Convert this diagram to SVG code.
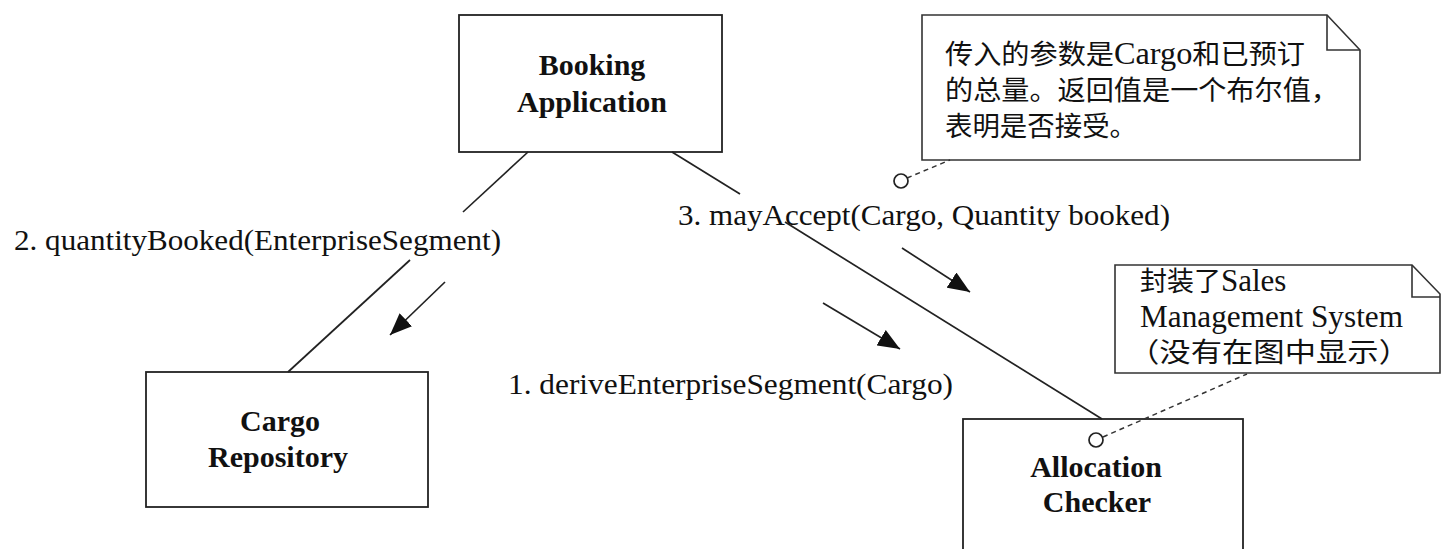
<svg xmlns="http://www.w3.org/2000/svg" width="1441" height="549" viewBox="0 0 1441 549">
  <style>
    .box { fill: #fff; stroke: #222; stroke-width: 1.8; }
    .note { fill: #fff; stroke: #333; stroke-width: 1.6; }
    .fold { fill: none; stroke: #333; stroke-width: 1.6; }
    .link { fill: none; stroke: #222; stroke-width: 1.7; }
    .msg { fill: none; stroke: #222; stroke-width: 1.7; }
    .dash { fill: none; stroke: #333; stroke-width: 1.5; stroke-dasharray: 5 4; }
    .anchor { fill: #fff; stroke: #222; stroke-width: 1.7; }
    .name { font-family: "Liberation Serif", "Times New Roman", serif; font-weight: bold; font-size: 30px; fill: #111; text-anchor: middle; }
    .label { font-family: "Liberation Serif", "Times New Roman", serif; font-size: 30px; fill: #111; }
    .cjk { font-family: "Liberation Serif", "Noto Sans CJK SC", serif; font-size: 27px; fill: #111; }
    .lat { font-size: 31px; }
  </style>
  <defs>
    <marker id="head" viewBox="0 0 22 18" refX="22" refY="9" markerWidth="22" markerHeight="18" markerUnits="userSpaceOnUse" orient="auto">
      <path d="M0,0 L22,9 L0,18 z" fill="#111"/>
    </marker>
  </defs>

  <g id="booking-application">
    <rect class="box" x="459" y="15" width="263" height="137"/>
    <text class="name" x="592" y="75">Booking</text>
    <text class="name" x="592" y="112">Application</text>
  </g>

  <g id="cargo-repository">
    <rect class="box" x="146" y="372" width="282" height="135"/>
    <text class="name" x="280" y="431">Cargo</text>
    <text class="name" x="278" y="467">Repository</text>
  </g>

  <g id="allocation-checker">
    <rect class="box" x="963" y="419" width="280" height="150"/>
    <text class="name" x="1096" y="477">Allocation</text>
    <text class="name" x="1097" y="512">Checker</text>
  </g>

  <g id="note-mayaccept">
    <path class="note" d="M922,15 L1327,15 L1360,50 L1360,160 L922,160 Z"/>
    <polyline class="fold" points="1327,15 1327,50 1360,50"/>
    <text class="cjk" x="945" y="64" textLength="360" lengthAdjust="spacingAndGlyphs">传入的参数是<tspan class="lat">Cargo</tspan>和已预订</text>
    <text class="cjk" x="945" y="100" textLength="394" lengthAdjust="spacingAndGlyphs">的总量。返回值是一个布尔值，</text>
    <text class="cjk" x="945" y="136" textLength="192" lengthAdjust="spacingAndGlyphs">表明是否接受。</text>
  </g>

  <g id="note-allocation">
    <path class="note" d="M1115,265 L1412,265 L1440,294 L1440,373 L1115,373 Z"/>
    <polyline class="fold" points="1412,265 1412,297 1440,297"/>
    <text class="cjk" x="1140" y="291"><tspan>封装了</tspan><tspan class="lat">Sales</tspan></text>
    <text class="cjk lat" x="1140" y="327" textLength="263" lengthAdjust="spacingAndGlyphs">Management System</text>
    <text class="cjk" x="1128" y="362" textLength="282" lengthAdjust="spacingAndGlyphs">（没有在图中显示）</text>
  </g>

  <g id="connectors">
    <line class="link" x1="528" y1="152" x2="463" y2="212"/>
    <line class="link" x1="410" y1="260" x2="288" y2="372"/>
    <line class="link" x1="672" y1="152" x2="740" y2="194"/>
    <line class="link" x1="785" y1="222" x2="1102" y2="419"/>
    <line class="msg" x1="445" y1="282" x2="390" y2="335" marker-end="url(#head)"/>
    <line class="msg" x1="902" y1="248" x2="970" y2="292" marker-end="url(#head)"/>
    <line class="msg" x1="823" y1="303" x2="900" y2="349" marker-end="url(#head)"/>
    <line class="dash" x1="907" y1="178" x2="950" y2="160"/>
    <circle class="anchor" cx="901" cy="181" r="7"/>
    <line class="dash" x1="1103" y1="437" x2="1247" y2="374"/>
    <circle class="anchor" cx="1096" cy="440" r="7"/>
    <text class="label" x="14" y="250" textLength="487" lengthAdjust="spacingAndGlyphs">2. quantityBooked(EnterpriseSegment)</text>
    <text class="label" x="678" y="225" textLength="492" lengthAdjust="spacingAndGlyphs">3. mayAccept(Cargo, Quantity booked)</text>
    <text class="label" x="508" y="394" textLength="445" lengthAdjust="spacingAndGlyphs">1. deriveEnterpriseSegment(Cargo)</text>
  </g>
</svg>
